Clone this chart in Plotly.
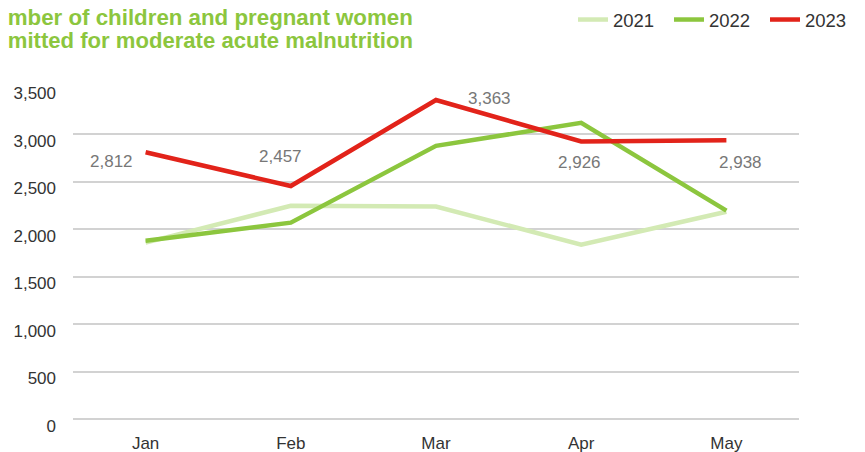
import plotly.graph_objects as go

months = ["Jan", "Feb", "Mar", "Apr", "May"]
admitted_2021 = [1860, 2249, 2240, 1840, 2186]
admitted_2022 = [1880, 2071, 2880, 3122, 2198]
admitted_2023 = [2812, 2457, 3363, 2926, 2938]

title_lines = [
    "Number of children and pregnant women",
    "admitted for moderate acute malnutrition",
]

# offsets (px) of the value labels for 2023
label_dx = [-34, -10, 53, -2, 14]
label_dy = [-9, 30, 2, -21, -22]

series = [
    ("2021", admitted_2021, "#d3eab4"),
    ("2022", admitted_2022, "#8cc63e"),
    ("2023", admitted_2023, "#e2231a"),
]

# the page body adds an 8px margin, so the figure is drawn 8px smaller
W, H = 857, 444
Y_RANGE = [-3, 3500]
# y tick labels sit a few px below their gridlines: a second axis with the
# same range but a domain shifted down carries the labels
DROP = 6.5
PLOT_H = 333 + DROP
d = DROP / PLOT_H

fig = go.Figure()
for name, vals, color in series:
    fig.add_trace(
        go.Scatter(
            x=months,
            y=vals,
            mode="lines",
            name=name,
            line=dict(color=color, width=4.5),
            hoverinfo="skip",
        )
    )

# invisible trace to carry the tick-label axis
fig.add_trace(
    go.Scatter(
        x=months, y=admitted_2021, yaxis="y2", mode="lines",
        line=dict(width=0), opacity=0, showlegend=False, hoverinfo="skip",
    )
)

for m, v, dx, dy in zip(months, admitted_2023, label_dx, label_dy):
    fig.add_annotation(
        x=m, y=v, text=f"{v:,}", showarrow=False,
        xshift=dx, yshift=dy,
        font=dict(size=17, color="#777777"),
    )

for i, (line, size) in enumerate(zip(title_lines, [22.3, 22.1])):
    fig.add_annotation(
        xref="paper", yref="paper",
        x=(407 - 65) / 726, y=1,
        yshift=70 - 23 * i, xanchor="right", yanchor="middle",
        text=f"<b>{line}</b>",
        showarrow=False,
        font=dict(size=size, color="#8cc63e"),
    )

fig.update_layout(
    width=W,
    height=H,
    margin=dict(l=65, r=66, t=79, b=H - 79 - PLOT_H, autoexpand=False),
    paper_bgcolor="white",
    plot_bgcolor="rgba(0,0,0,0)",
    font=dict(family="Liberation Sans, Arial, sans-serif", size=17, color="#333333"),
    showlegend=True,
    legend=dict(
        orientation="h",
        xref="container", yref="container",
        x=565 / W, xanchor="left",
        y=1 - 12 / H, yanchor="middle",
        font=dict(size=18.5, color="#333333"),
        itemwidth=30,
        entrywidth=51,
        entrywidthmode="pixels",
        traceorder="normal",
    ),
    xaxis=dict(
        range=[-0.5, 4.5],
        anchor="y",
        showgrid=False,
        showline=False,
        ticks="",
        ticklabelstandoff=11,
        tickfont=dict(size=17),
        automargin=False,
    ),
    yaxis=dict(
        domain=[d, 1],
        range=Y_RANGE,
        dtick=500,
        showgrid=True,
        gridcolor="#d2d2d2",
        gridwidth=1.5,
        zeroline=True,
        zerolinecolor="#d2d2d2",
        zerolinewidth=1.5,
        ticks="",
        showticklabels=False,
        automargin=False,
    ),
    yaxis2=dict(
        domain=[0, 1 - d],
        anchor="x",
        side="left",
        range=Y_RANGE,
        dtick=500,
        tickformat=",",
        showgrid=False,
        zeroline=False,
        showline=False,
        ticks="",
        ticklabelstandoff=16,
        tickfont=dict(size=17),
        automargin=False,
    ),
)

fig.write_html("out.html")
